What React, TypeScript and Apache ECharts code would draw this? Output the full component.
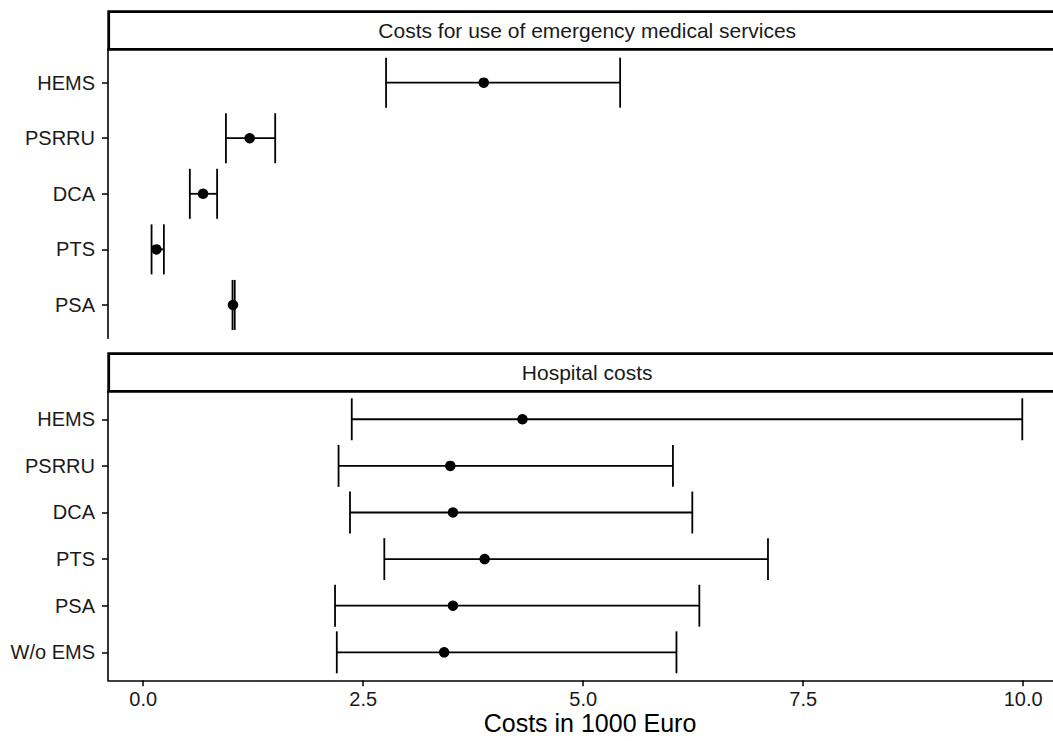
import React, { useEffect, useRef } from "react";
import * as echarts from "echarts";

// ---- Data ----
const emsCategories = ["HEMS", "PSRRU", "DCA", "PTS", "PSA"];
const emsMean = [3.87, 1.21, 0.68, 0.15, 1.02];
const emsLow = [2.76, 0.94, 0.53, 0.095, 1.015];
const emsHigh = [5.42, 1.5, 0.84, 0.235, 1.04];

const hospCategories = ["HEMS", "PSRRU", "DCA", "PTS", "PSA", "W/o EMS"];
const hospMean = [4.31, 3.49, 3.52, 3.88, 3.52, 3.42];
const hospLow = [2.37, 2.22, 2.35, 2.74, 2.18, 2.2];
const hospHigh = [9.99, 6.02, 6.24, 7.1, 6.32, 6.06];

const xTicks = [0, 2.5, 5, 7.5, 10];
const panelTitles = ["Costs for use of emergency medical services", "Hospital costs"];
const xAxisTitle = "Costs in 1000 Euro";

const FONT = "Liberation Sans, Arial, Helvetica, sans-serif";
const TEXT = "#1a1a1a";

export default function App() {
  const ref = useRef<HTMLDivElement>(null);

  useEffect(() => {
    if (!ref.current) return;
    const chart = echarts.init(ref.current, undefined, { renderer: "svg" });

    const gridLeft = 108;
    const gridWidth = 945;
    const panelH = 289;
    const grids = [
      { left: gridLeft, top: 49.3, width: gridWidth, height: panelH },
      { left: gridLeft, top: 391.3, width: gridWidth, height: panelH },
    ];
    const xMin = -0.4;
    const xMax = 10.339;

    const yAxisFor = (cats: string[], gi: number) => {
      const vals = cats.map((_, i) => i + 1);
      return {
        type: "value",
        gridIndex: gi,
        inverse: true,
        min: 0.4,
        max: cats.length + 0.6,
        splitLine: { show: false },
        axisLine: { show: true, onZero: false, lineStyle: { color: "#000", width: 1.6 } },
        axisTick: { show: true, length: 6, customValues: vals, lineStyle: { color: "#000", width: 1.5 } },
        axisLabel: {
          customValues: vals,
          margin: 13,
          color: TEXT,
          fontSize: 20,
          fontFamily: FONT,
          formatter: (v: number) => cats[Math.round(v) - 1] ?? "",
        },
      };
    };

    const xAxisFor = (gi: number, show: boolean) => ({
      type: "value",
      gridIndex: gi,
      min: xMin,
      max: xMax,
      show,
      splitLine: { show: false },
      axisLine: { show: true, onZero: false, lineStyle: { color: "#000", width: 1.6 } },
      axisTick: { show: true, length: 6, customValues: xTicks, lineStyle: { color: "#000", width: 1.5 } },
      axisLabel: {
        customValues: xTicks,
        margin: 9,
        color: TEXT,
        fontSize: 20,
        fontFamily: FONT,
        formatter: (v: number) => v.toFixed(1),
      },
      name: show ? xAxisTitle : "",
      nameLocation: "middle",
      nameGap: 27,
      nameTextStyle: { color: "#000", fontSize: 25, fontFamily: FONT, padding: [0, 0, 0, 19] },
    });

    const errRender = (params: any, api: any) => {
      const y = api.value(0);
      const lo = api.value(1);
      const hi = api.value(2);
      const p1 = api.coord([lo, y]);
      const p2 = api.coord([hi, y]);
      const half = Math.abs(api.size([0, 0.45])[1]);
      const style = { stroke: "#000", lineWidth: 1.8 };
      return {
        type: "group",
        children: [
          { type: "line", shape: { x1: p1[0], y1: p1[1], x2: p2[0], y2: p2[1] }, style },
          { type: "line", shape: { x1: p1[0], y1: p1[1] - half, x2: p1[0], y2: p1[1] + half }, style },
          { type: "line", shape: { x1: p2[0], y1: p2[1] - half, x2: p2[0], y2: p2[1] + half }, style },
        ],
      };
    };

    const panels = [
      { cats: emsCategories, mean: emsMean, low: emsLow, high: emsHigh },
      { cats: hospCategories, mean: hospMean, low: hospLow, high: hospHigh },
    ];

    const series: any[] = [];
    panels.forEach((p, gi) => {
      series.push({
        type: "custom",
        xAxisIndex: gi,
        yAxisIndex: gi,
        renderItem: errRender,
        encode: { x: [1, 2], y: 0 },
        data: p.cats.map((_, i) => [i + 1, p.low[i], p.high[i]]),
        silent: true,
        z: 2,
      });
      series.push({
        type: "scatter",
        xAxisIndex: gi,
        yAxisIndex: gi,
        symbol: "circle",
        symbolSize: 10.5,
        itemStyle: { color: "#000", opacity: 1 },
        data: p.cats.map((_, i) => [p.mean[i], i + 1]),
        silent: true,
        z: 3,
      });
    });

    const strips = [
      { y: 11.7, h: 37.6 },
      { y: 353.7, h: 37.6 },
    ];

    chart.setOption({
      animation: false,
      backgroundColor: "#fff",
      grid: grids,
      xAxis: [xAxisFor(0, false), xAxisFor(1, true)],
      yAxis: [yAxisFor(emsCategories, 0), yAxisFor(hospCategories, 1)],
      series,
      graphic: strips.flatMap((s, i) => [
        {
          type: "rect",
          shape: { x: 108.7, y: s.y, width: 957, height: s.h },
          style: { fill: "#fff", stroke: "#000", lineWidth: 2.8 },
          z: 10,
        },
        {
          type: "text",
          x: 108.7 + 957 / 2,
          y: s.y + s.h / 2,
          style: {
            text: panelTitles[i],
            fill: TEXT,
            fontSize: 21,
            fontFamily: FONT,
            align: "center",
            verticalAlign: "middle",
          },
          z: 11,
        },
      ]),
    });

    return () => chart.dispose();
  }, []);

  return (
    <div
      ref={ref}
      style={{ position: "fixed", left: 0, top: 0, width: 1053, height: 741, background: "#fff" }}
    />
  );
}
